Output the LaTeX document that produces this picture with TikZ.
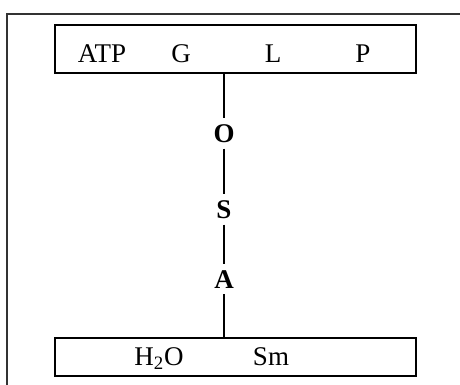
\documentclass[tikz,border=0pt]{standalone}
\usepackage{fontspec}
\setmainfont{Liberation Serif}
\usetikzlibrary{positioning}

\begin{document}
\begin{tikzpicture}[x=0.5pt,y=-0.5pt,
    frameline/.style={draw=black!80,line width=0.6pt},
    box/.style={draw,line width=0.8pt,minimum width=180.5pt,inner sep=0pt},
    item/.style={anchor=base,inner sep=0pt,font=\fontsize{13.5}{16}\selectfont},
    link/.style={anchor=base,inner sep=3pt,font=\fontsize{13.5}{16}\selectfont\bfseries}]

\useasboundingbox (0,0) rectangle (460,385);

%% Frame
\draw[frameline] (7,385) -- (7,14) -- (460,14);

%% Boxes
\node[box,minimum height=24pt] (upper) at (235.5,49) {};
\node[box,minimum height=19pt] (lower) at (235.5,357) {};

\node[item] (atp) at (102,63) {ATP};
\node[item] (g)   at (181,63) {G};
\node[item] (l)   at (273,63) {L};
\node[item] (p)   at (363,63) {P};

\node[item] (water) at (159,365) {H\textsubscript{2}O};
\node[item] (sm)    at (271,365) {Sm};

%% Chain
\node[link] (o) at (224,142) {O};
\node[link] (s) at (224,218) {S};
\node[link] (a) at (224,288) {A};

\draw[line width=0.8pt] (upper.south -| o) -- (o);
\draw[line width=0.8pt] (o) -- (s);
\draw[line width=0.8pt] (s) -- (a);
\draw[line width=0.8pt] (a) -- (lower.north -| a);

\end{tikzpicture}
\end{document}
